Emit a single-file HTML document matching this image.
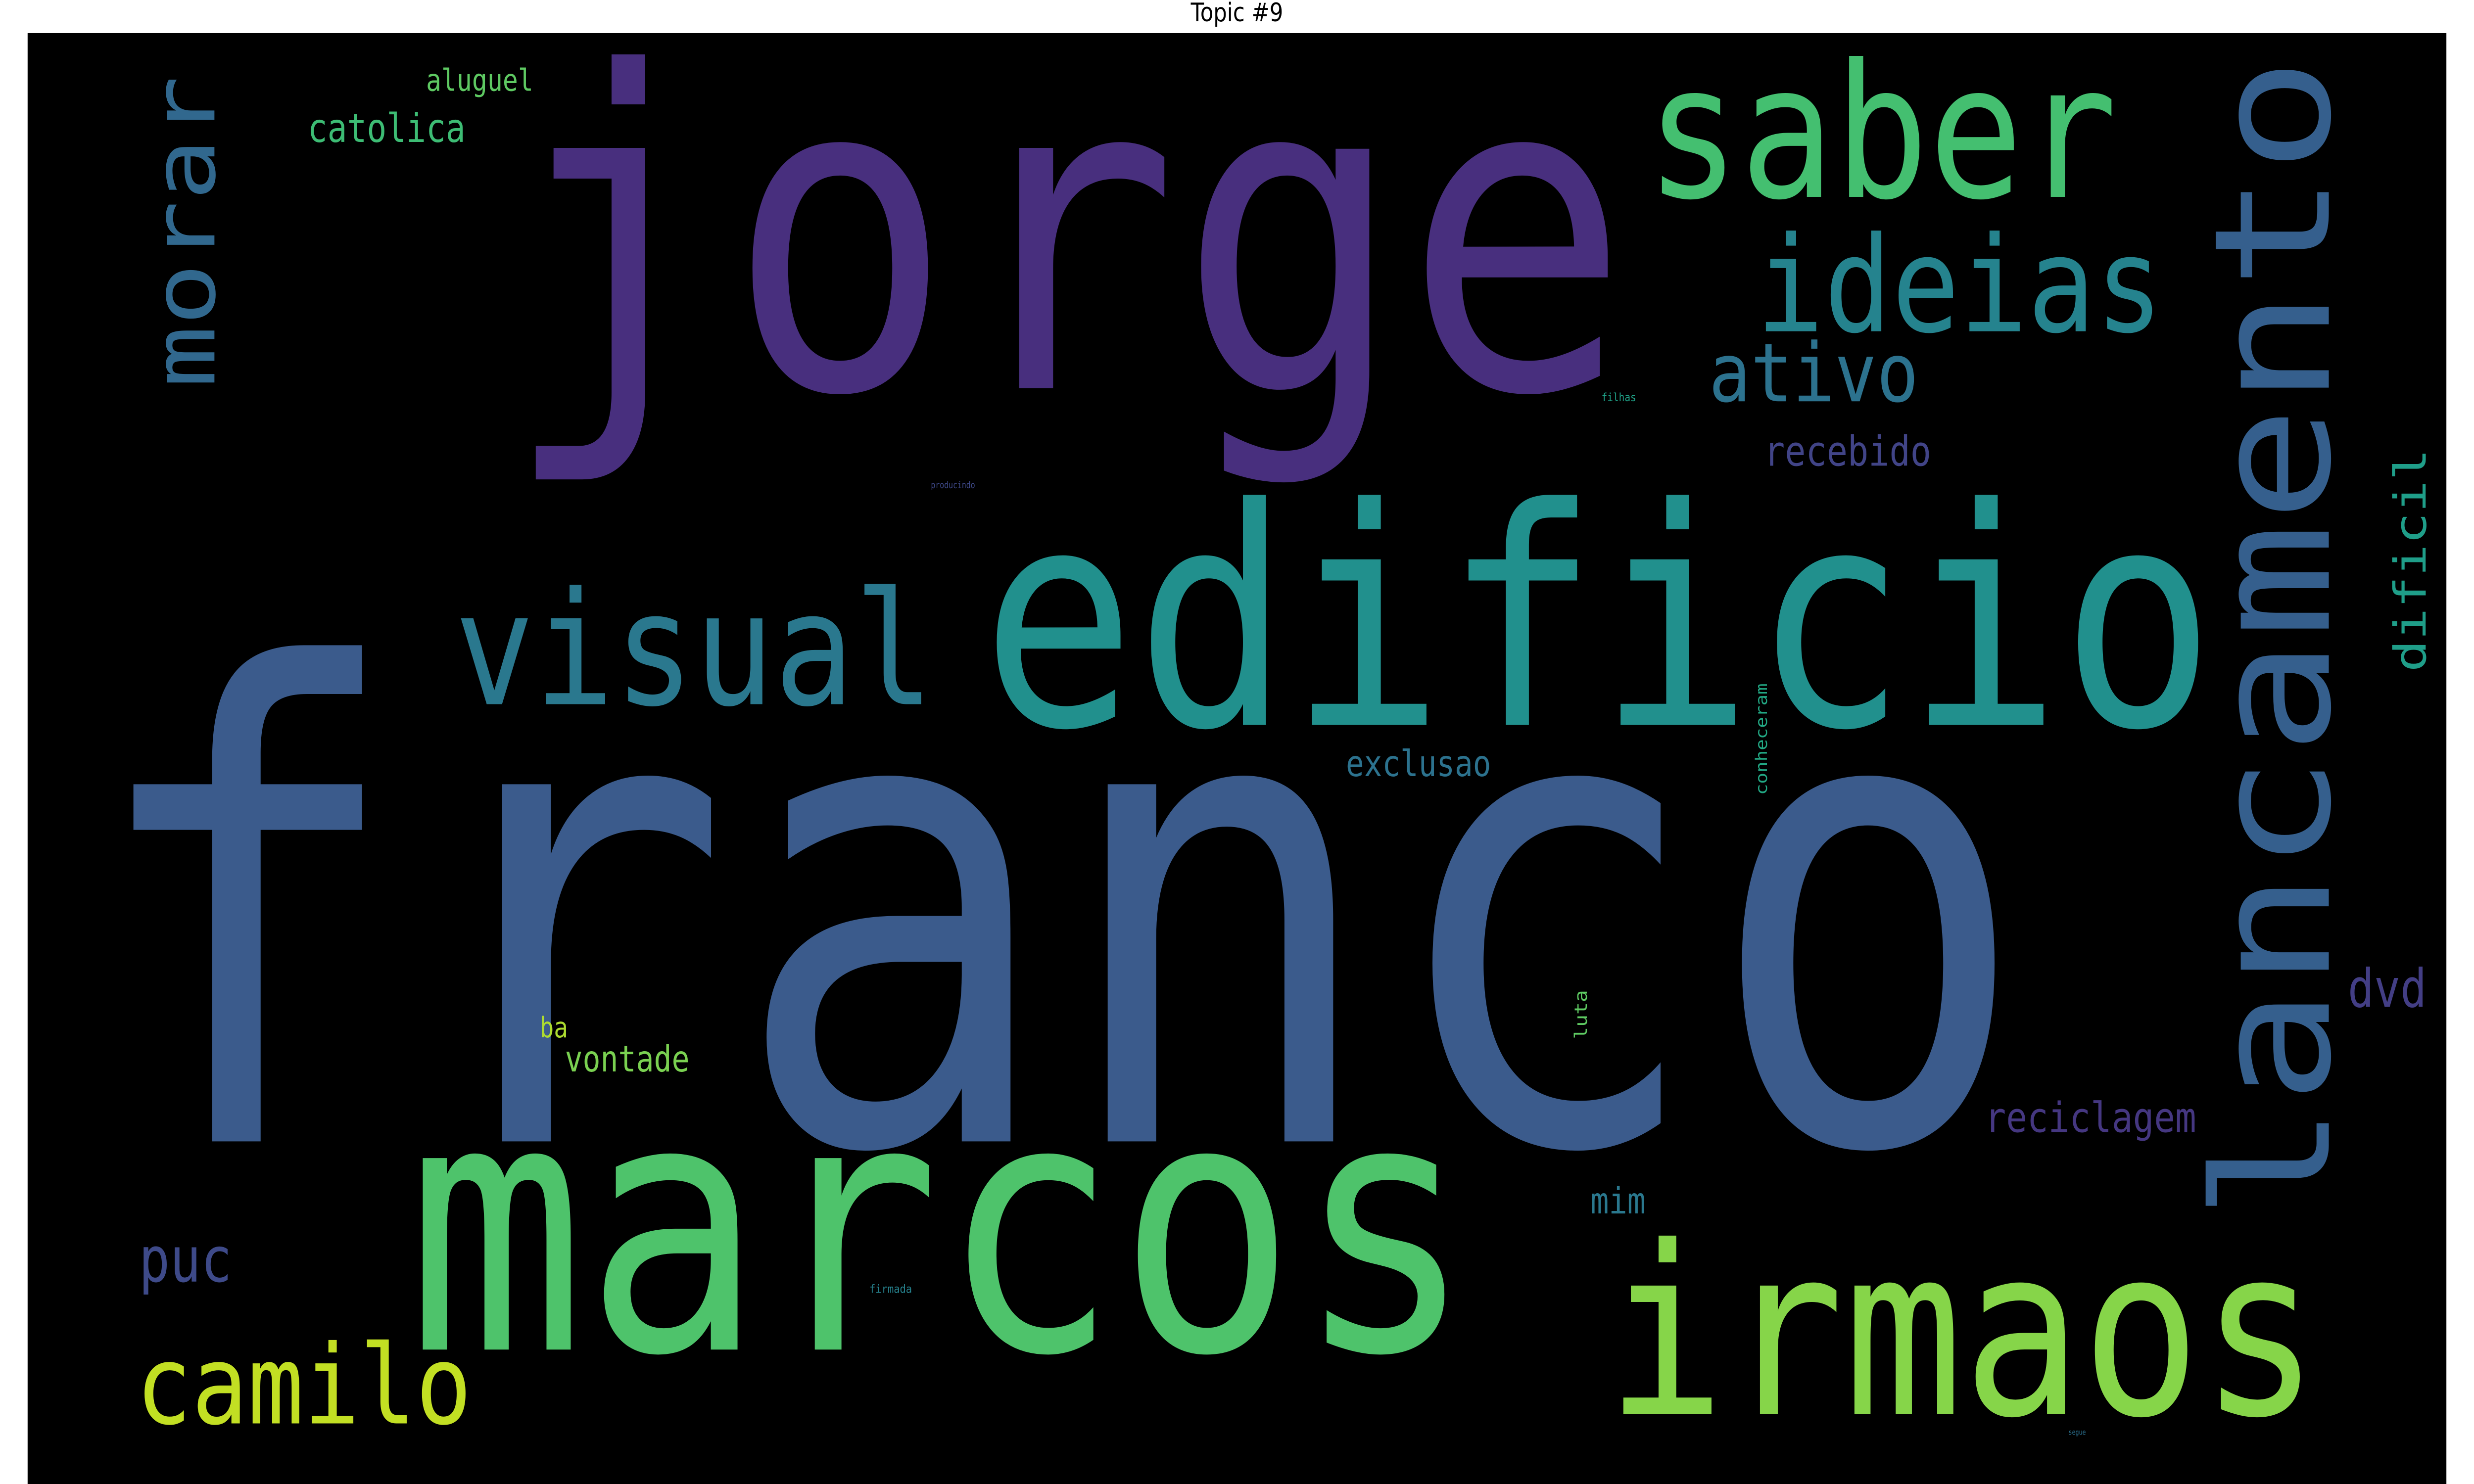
<!DOCTYPE html>
<html><head><meta charset="utf-8"><style>
html,body{margin:0;padding:0;background:#fff;width:100vw;height:100vh;overflow:hidden;}
svg{display:block;position:absolute;left:0;top:0;width:100vw;height:100vh;}
</style></head><body>
<svg id="chart" viewBox="0 0 1568 784" preserveAspectRatio="none" xmlns="http://www.w3.org/2000/svg">
<rect x="0" y="0" width="1568" height="784" fill="#ffffff"/>
<text x="784" y="11.2" text-anchor="middle" font-family="DejaVu Sans, Liberation Sans, sans-serif" font-size="13.6" fill="#000">Topic #9</text>
<rect x="17.5" y="17.5" width="1533" height="767" fill="#000"/>
<g id="words" font-family="DejaVu Sans Mono, Liberation Mono, monospace"></g>
</svg>
<script>
const words = ["franco","jorge","edificio","marcos","irmaos","saber","ideias","lancamento","visual","morar","ativo","catolica","aluguel","recebido","dificil","exclusao","conheceram","dvd","reciclagem","ba","vontade","luta","mim","puc","camilo","filhas","producindo","firmada","segue"];
const sizes = [345,232,160,185,124,98,70,102,83,55,43,21,16,22,28,19,10,28,22,15,19,11,19,33,58,6,5,6,4];
const wordX = [52,318,622,258,1018,1043,1113,1478,288,137,1083,195,270,1118,1538,853,1120,1488,1258,342,358,1006,1008,88,86,1015,590,551,1311];
const wordY = [603,205,383,713,747,104,175,645,372,205,212,75,48,246,355,410,420,532,598,548,566,549,641,677,752,212,258,683,758];
const wordLen = [1235,715,782,676,452,299,258,615,304,165,133,100,68,106,118,92,59,50,134,18,79,26,35,59,213,22,28,27,11];
const vertical = [0,0,0,0,0,0,0,1,0,1,0,0,0,0,1,0,1,0,0,0,0,1,0,0,0,0,0,0,0];
const colors = ["#3b5b8c","#482f7e","#21908d","#4ec36b","#86d549","#44bf70","#25838e","#355f8d","#2a788e","#31688e","#2c728e","#3dbc74","#5ec962","#414487","#1f9e89","#2c728e","#22a884","#433e85","#453781","#addc30","#7ad151","#5ec962","#2a788e","#3e4a89","#c2df23","#1fa187","#3e4989","#26828e","#2a6f8e"];
const g = document.getElementById('words');
const NS = 'http://www.w3.org/2000/svg';
for (let i = 0; i < words.length; i++) {
  const t = document.createElementNS(NS, 'text');
  
  
  t.setAttribute('font-size', sizes[i]);
  t.setAttribute('fill', colors[i]);
  t.setAttribute('textLength', wordLen[i]);
  t.setAttribute('lengthAdjust', 'spacingAndGlyphs');
  if (vertical[i]) {
    t.setAttribute('x', 0);
    t.setAttribute('y', 0);
    t.setAttribute('transform', 'translate(' + (wordX[i] - sizes[i]*0.02) + ',' + wordY[i] + ') rotate(-90)');
  } else {
    t.setAttribute('x', wordX[i]);
    t.setAttribute('y', wordY[i]);
  }
  t.textContent = words[i];
  g.appendChild(t);
}
</script>
</body></html>
